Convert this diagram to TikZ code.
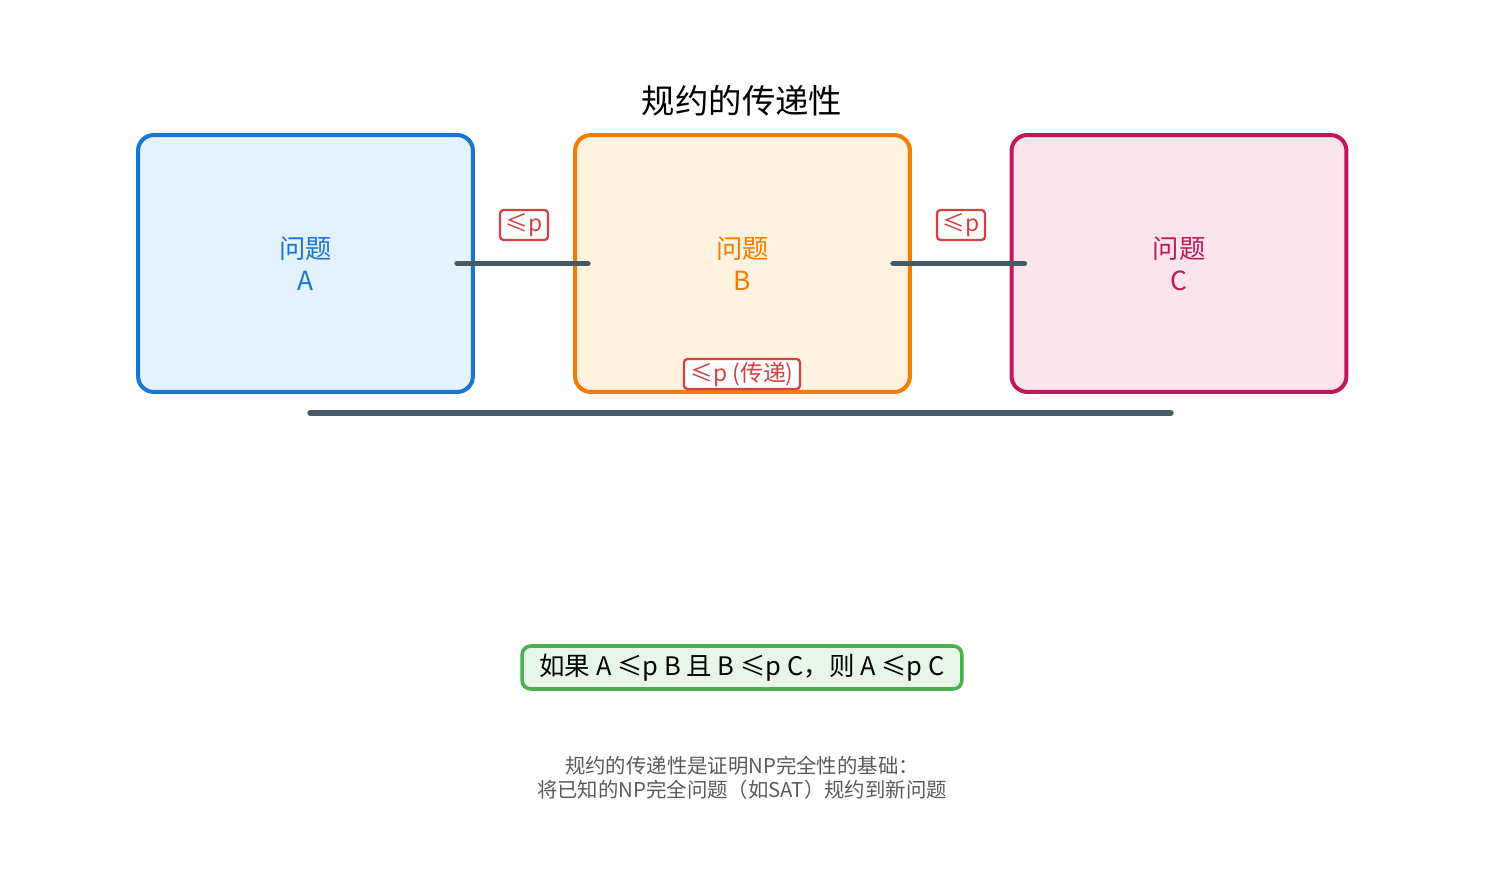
\documentclass[tikz,border=0pt]{standalone}
\usepackage{fontspec}
\setmainfont{Noto Sans CJK SC}
\usepackage{tikz}
\usetikzlibrary{positioning, calc}
\definecolor{myblue}{RGB}{25,118,210}
\definecolor{myorange}{RGB}{245,124,0}
\definecolor{mypink}{RGB}{194,24,91}
\definecolor{mygreen}{RGB}{76,175,80}
\definecolor{myred}{RGB}{214,64,64}
\definecolor{myslate}{RGB}{69,90,100}
\definecolor{mygray}{RGB}{90,90,90}
\definecolor{hdrblue}{RGB}{227,242,253}
\definecolor{hdrorange}{RGB}{255,243,224}
\definecolor{hdrpink}{RGB}{252,228,236}
\definecolor{hdrgreen}{RGB}{232,245,233}
\tikzset{
  probbox/.style={rectangle, minimum width=6.7cm, minimum height=5.14cm,
    rounded corners=9pt, line width=2.3pt, align=center,
    font=\fontsize{15}{18}\selectfont},
  redtag/.style={rectangle, draw=myred, fill=white, text=myred,
    rounded corners=2pt, line width=1.3pt, minimum height=0.6cm,
    inner xsep=3pt, inner ysep=0pt, font=\fontsize{13}{14}\selectfont},
  line/.style={line width=3pt, color=myslate, line cap=round}
}
\begin{document}
\begin{tikzpicture}[x=0.02cm, y=-0.02cm]
  \useasboundingbox (0,0) rectangle (1485,885);
  \node[font=\fontsize{19}{21}\selectfont] (title) at (742,101) {规约的传递性};
  \node[probbox, draw=myblue, fill=hdrblue, text=myblue] (A) at (305.5,263.5) {问题\\A};
  \node[probbox, draw=myorange, fill=hdrorange, text=myorange] (B) at (742.5,263.5) {问题\\B};
  \node[probbox, draw=mypink, fill=hdrpink, text=mypink] (C) at (1179,263.5) {问题\\C};
  % reductions between neighbours
  \coordinate (ab1) at ($(A.east)+(-18,0)$);
  \coordinate (ab2) at ($(B.west)+(15,0)$);
  \coordinate (bc1) at ($(B.east)+(-19,0)$);
  \coordinate (bc2) at ($(C.west)+(15,0)$);
  \draw[line] (ab1) -- (ab2);
  \draw[line] (bc1) -- (bc2);
  \node[redtag, minimum width=0.96cm] (tab) at (524,225) {≤p};
  \node[redtag, minimum width=0.96cm] (tbc) at (961,225) {≤p};
  % transitive reduction
  \coordinate (ac1) at (310,413);
  \coordinate (ac2) at (1171,413);
  \draw[line] (ac1) -- (ac2);
  \node[redtag, minimum width=2.32cm] (tac) at (742,374) {≤p (传递)};
  \node[rectangle, draw=mygreen, fill=hdrgreen, line width=2pt, rounded corners=5pt,
    minimum width=8.8cm, minimum height=0.86cm,
    font=\fontsize{14.5}{16}\selectfont] (rule) at (742,667.5)
    {如果 A ≤p B 且 B ≤p C，则 A ≤p C};
  \node[text=mygray, align=center, font=\fontsize{11.6}{13.8}\selectfont] (note) at (742,778)
    {规约的传递性是证明NP完全性的基础：\\将已知的NP完全问题（如SAT）规约到新问题};
\end{tikzpicture}
\end{document}
